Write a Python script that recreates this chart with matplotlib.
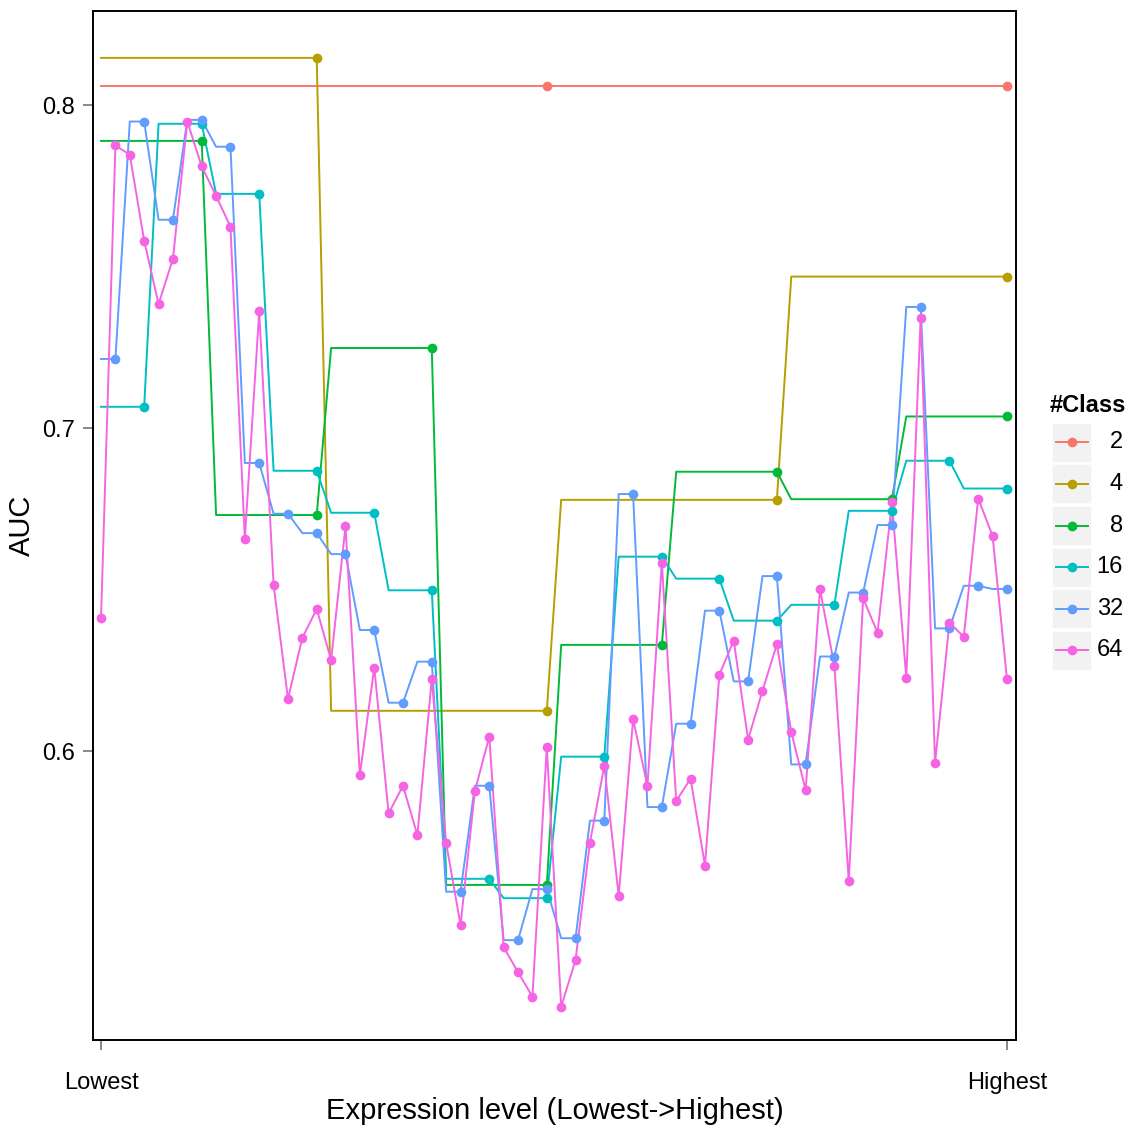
import numpy as np
import matplotlib
matplotlib.use("Agg")
import matplotlib.pyplot as plt
from matplotlib.patches import Rectangle

plt.rcParams["font.family"] = ["Liberation Sans", "DejaVu Sans"]

# AUC per bin, bins ordered from lowest to highest expression
n_class = [2, 4, 8, 16, 32, 64]
auc_2 = [0.806, 0.806]
auc_4 = [0.8147, 0.6126, 0.6779, 0.7470]
auc_8 = [0.7890, 0.6732, 0.7249, 0.5587, 0.6330, 0.6866, 0.6781, 0.7037]
auc_16 = [0.7067, 0.7943, 0.7726, 0.6869, 0.6739, 0.6499, 0.5606, 0.5546,
          0.5984, 0.6603, 0.6535, 0.6405, 0.6454, 0.6745, 0.6900, 0.6814]
auc_32 = [0.7215, 0.7950, 0.7646, 0.7955, 0.7872, 0.6893, 0.6736, 0.6676,
          0.6611, 0.6376, 0.6151, 0.6278, 0.5566, 0.5894, 0.5416, 0.5574,
          0.5422, 0.5786, 0.6797, 0.5828, 0.6086, 0.6436, 0.6217, 0.6543,
          0.5960, 0.6294, 0.6492, 0.6701, 0.7376, 0.6381, 0.6513, 0.6503]
auc_64 = [0.6414, 0.7876, 0.7847, 0.7581, 0.7385, 0.7525, 0.7950, 0.7811,
          0.7720, 0.7624, 0.6659, 0.7362, 0.6516, 0.6163, 0.6352, 0.6441,
          0.6283, 0.6697, 0.5927, 0.6260, 0.5809, 0.5894, 0.5741, 0.6224,
          0.5717, 0.5463, 0.5878, 0.6046, 0.5394, 0.5317, 0.5241, 0.6013,
          0.5210, 0.5355, 0.5718, 0.5956, 0.5553, 0.6100, 0.5893, 0.6585,
          0.5847, 0.5916, 0.5647, 0.6238, 0.6343, 0.6037, 0.6188, 0.6332,
          0.6061, 0.5880, 0.6502, 0.6265, 0.5600, 0.6474, 0.6368, 0.6771,
          0.6228, 0.7343, 0.5964, 0.6399, 0.6355, 0.6783, 0.6668, 0.6225]
series = [auc_2, auc_4, auc_8, auc_16, auc_32, auc_64]
colors = ["#F8766D", "#B79F00", "#00BA38", "#00BFC4", "#619CFF", "#F564E3"]

W, H = 1134, 1127
fig = plt.figure(figsize=(W / 100, H / 100), dpi=100)
ax = fig.add_axes([92.7 / W, 87 / H, (1016 - 92.7) / W, (1040 - 10.7) / H])

n_pos = 64
pos = np.arange(1, n_pos + 1)
for n, vals, col in zip(n_class, series, colors):
    width = n_pos // n
    ax.plot(pos, np.repeat(vals, width), color=col, lw=1.4, zorder=2)
    ax.plot(pos[width - 1::width], vals, "o", color=col, ms=7, mec="none", zorder=3)

ax.set_xlim(0.42, 64.63)
ax.set_ylim(0.5107, 0.8293)
ax.set_yticks([0.6, 0.7, 0.8])
ax.set_yticklabels(["0.6", "0.7", "0.8"])
ax.set_xticks([1, 64])
ax.set_xticklabels(["Lowest", "Highest"])
ax.tick_params(length=7, width=1.3, color="#7F7F7F", labelsize=17)
ax.tick_params(axis="y", pad=6)
ax.tick_params(axis="x", pad=16)
for s in ax.spines.values():
    s.set_linewidth(1.4)
    s.set_color("black")
ax.set_xlabel("Expression level (Lowest->Highest)", fontsize=21, labelpad=2)
ax.set_ylabel("AUC", fontsize=21, labelpad=4)

# legend drawn in pixel units
lax = fig.add_axes([1040 / W, (H - 680) / H, 94 / W, 300 / H])
lax.set_xlim(1040, 1134)
lax.set_ylim(680, 380)
lax.axis("off")
lax.text(1050, 405, "#Class", fontsize=17, fontweight="bold", ha="left", va="center")
for k, (n, col) in enumerate(zip(n_class, colors)):
    cy = 442.3 + k * 41.6
    lax.add_patch(Rectangle((1052, cy - 19.5), 39, 39, facecolor="#F2F2F2", edgecolor="white", lw=0.5))
    lax.plot([1056, 1088], [cy, cy], color=col, lw=1.4)
    lax.plot([1071.5], [cy], "o", color=col, ms=7, mec="none")
    lax.text(1123, cy, str(n), fontsize=17, ha="right", va="center")

fig.savefig("out.png", dpi=100)
